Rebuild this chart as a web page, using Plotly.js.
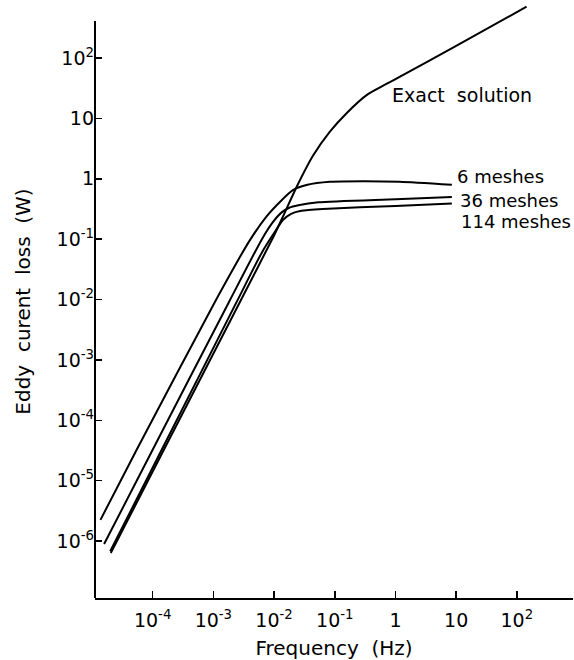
<!DOCTYPE html>
<html>
<head>
<meta charset="utf-8">
<script src="https://cdn.plot.ly/plotly-3.0.1.min.js"></script>
<style>html,body{margin:0;padding:0;background:#fff;}#chart{width:574px;height:660px;}</style>
</head>
<body>
<div id="chart"></div>
<script>
// Frequency (Hz) and eddy current loss (W)
const freq6 = [1.38e-5, 5.45e-5, 1.06e-3, 3.98e-3, 7.59e-3, 1.26e-2, 2.04e-2, 3.55e-2, 8.32e-2, 0.288, 1.17, 8.5];
const loss6 = [2.24e-6, 3.24e-5, 9.12e-3, 9.55e-2, 0.24, 0.417, 0.646, 0.794, 0.891, 0.912, 0.891, 0.794];

const freq36 = [1.585e-5, 1e-4, 1.81e-3, 6.31e-3, 9.55e-3, 1.32e-2, 1.78e-2, 2.51e-2, 5.37e-2, 1, 8.5];
const loss36 = [8.91e-7, 3.24e-5, 9.12e-3, 0.1, 0.191, 0.275, 0.331, 0.363, 0.407, 0.457, 0.501];

const freq114 = [2.0e-5, 1.41e-4, 2.42e-3, 6.31e-3, 1e-2, 1.41e-2, 1.91e-2, 2.82e-2, 6.31e-2, 1, 8.5];
const loss114 = [6.76e-7, 3.24e-5, 9.12e-3, 6.03e-2, 0.126, 0.209, 0.263, 0.295, 0.316, 0.355, 0.389];

const freqExact = [2.04e-5, 1.53e-4, 2.74e-3, 1e-2, 1.41e-2, 2.34e-2, 4.37e-2, 8.32e-2, 0.158, 0.339, 1, 10, 144.5];
const lossExact = [6.31e-7, 3.24e-5, 9.12e-3, 0.115, 0.24, 0.724, 2.40, 6.03, 12.3, 24.5, 44.7, 158.5, 708];

const xTickVals = [1e-4, 1e-3, 1e-2, 1e-1, 1, 10, 100];
const xTickText = ["10<sup>-4</sup>", "10<sup>-3</sup>", "10<sup>-2</sup>", "10<sup>-1</sup>", "1", "10", "10<sup>2</sup>"];
const yTickVals = [1e-6, 1e-5, 1e-4, 1e-3, 1e-2, 1e-1, 1, 10, 100];
const yTickText = ["10<sup>-6</sup>", "10<sup>-5</sup>", "10<sup>-4</sup>", "10<sup>-3</sup>", "10<sup>-2</sup>", "10<sup>-1</sup>", "1", "10", "10<sup>2</sup>"];

const seriesNames = ["6 meshes", "36 meshes", "114 meshes", "Exact\u00A0\u00A0solution"];

const FONT = "DejaVu Sans, Arial, sans-serif";
const lineStyle = {color: "#000", width: 2, shape: "spline", smoothing: 0.6};

const traces = [
  {x: freq6, y: loss6, name: seriesNames[0]},
  {x: freq36, y: loss36, name: seriesNames[1]},
  {x: freq114, y: loss114, name: seriesNames[2]},
  {x: freqExact, y: lossExact, name: seriesNames[3]}
].map(t => Object.assign(t, {type: "scatter", mode: "lines", line: lineStyle, hoverinfo: "skip"}));

const labelFont = {family: FONT, size: 18, color: "#000"};
const tickFont = {family: FONT, size: 19, color: "#000"};

// y axis drawn up to 10^2.613; the plot area extends higher so the exact curve can run above it
const yAxisTop = 2.613, yAxisBottom = -6.944;

const layout = {
  width: 574, height: 660,
  margin: {l: 95, r: 1, t: 5, b: 62},
  paper_bgcolor: "#fff", plot_bgcolor: "#fff",
  showlegend: false,
  font: {family: FONT, size: 17, color: "#000"},
  xaxis: {
    type: "log", range: [-4.95, 2.925],
    showline: true, linecolor: "#000", linewidth: 2,
    ticks: "inside", ticklen: 7, tickwidth: 1.5, tickcolor: "#000",
    tickvals: xTickVals, ticktext: xTickText,
    showgrid: false, zeroline: false,
    ticklabelstandoff: 4,
    tickfont: tickFont,
    title: {text: "Frequency\u00A0\u00A0(Hz)", font: {family: FONT, size: 20, color: "#000"}, standoff: 12}
  },
  yaxis: {
    type: "log", range: [yAxisBottom, 2.878],
    showline: false,
    ticks: "inside", ticklen: 7, tickwidth: 1.5, tickcolor: "#000",
    tickvals: yTickVals, ticktext: yTickText,
    showgrid: false, zeroline: false,
    ticklabelstandoff: 0,
    tickfont: tickFont,
    title: {text: "Eddy\u00A0\u00A0curent\u00A0\u00A0loss\u00A0\u00A0(W)", font: {family: FONT, size: 20, color: "#000"}, standoff: 20}
  },
  shapes: [
    {type: "line", xref: "paper", yref: "y", x0: 0, x1: 0, y0: Math.pow(10, yAxisBottom), y1: Math.pow(10, yAxisTop),
     line: {color: "#000", width: 2}}
  ],
  annotations: [
    {text: seriesNames[3], x: -0.09, y: 1.39, xref: "x", yref: "y", xanchor: "left", yanchor: "middle", showarrow: false, font: {family: FONT, size: 19, color: "#000"}},
    {text: seriesNames[0], x: 0.98, y: 0.034, xref: "x", yref: "y", xanchor: "left", yanchor: "middle", showarrow: false, font: labelFont},
    {text: seriesNames[1], x: 1.03, y: -0.352, xref: "x", yref: "y", xanchor: "left", yanchor: "middle", showarrow: false, font: labelFont},
    {text: seriesNames[2], x: 1.046, y: -0.711, xref: "x", yref: "y", xanchor: "left", yanchor: "middle", showarrow: false, font: labelFont}
  ]
};

Plotly.newPlot("chart", traces, layout, {staticPlot: true, displayModeBar: false});
</script>
</body>
</html>
